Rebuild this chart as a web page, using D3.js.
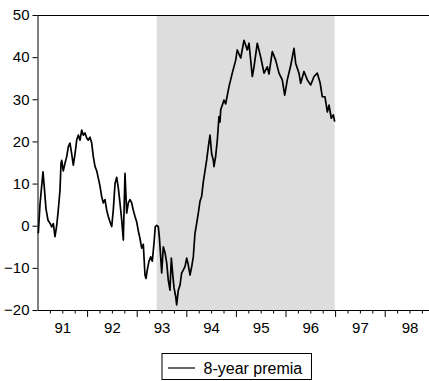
<!DOCTYPE html>
<html>
<head>
<meta charset="utf-8">
<script src="https://cdn.jsdelivr.net/npm/d3@7"></script>
<style>
  body { margin: 0; background: #fff; }
  svg { display: block; font-family: "Liberation Sans", Arial, sans-serif; }
  .axis text { font-size: 15px; fill: #000; }
  .axis line, .axis path { stroke: #000; }
</style>
</head>
<body>
<svg width="429" height="381"></svg>
<script>
// weekly-ish observations, decimal years
var dates = [
  1991.016, 1991.050, 1991.081, 1991.111, 1991.141, 1991.171, 1991.212, 1991.252, 1991.286, 1991.319,
  1991.353, 1991.387, 1991.419, 1991.454, 1991.474, 1991.488, 1991.520, 1991.554, 1991.589, 1991.621,
  1991.655, 1991.690, 1991.722, 1991.756, 1991.790, 1991.823, 1991.857, 1991.891, 1991.923, 1991.958,
  1991.992, 1992.024, 1992.058, 1992.093, 1992.125, 1992.159, 1992.194, 1992.226, 1992.260, 1992.294,
  1992.327, 1992.361, 1992.395, 1992.427, 1992.462, 1992.496, 1992.528, 1992.563, 1992.597, 1992.629,
  1992.663, 1992.698, 1992.730, 1992.764, 1992.798, 1992.831, 1992.865, 1992.899, 1992.931, 1992.966,
  1993.000, 1993.032, 1993.067, 1993.101, 1993.133, 1993.167, 1993.188, 1993.214, 1993.248, 1993.282,
  1993.315, 1993.349, 1993.375, 1993.403, 1993.435, 1993.456, 1993.484, 1993.504, 1993.536, 1993.571,
  1993.605, 1993.637, 1993.671, 1993.698, 1993.726, 1993.752, 1993.786, 1993.806, 1993.839, 1993.873,
  1993.907, 1993.940, 1993.974, 1994.008, 1994.040, 1994.075, 1994.109, 1994.141, 1994.175, 1994.210,
  1994.242, 1994.276, 1994.310, 1994.343, 1994.377, 1994.411, 1994.444, 1994.478, 1994.512, 1994.544,
  1994.558, 1994.591, 1994.625, 1994.659, 1994.679, 1994.694, 1994.760, 1994.794, 1994.821, 1994.861,
  1994.927, 1994.996, 1995.028, 1995.097, 1995.163, 1995.230, 1995.264, 1995.331, 1995.365, 1995.431,
  1995.500, 1995.567, 1995.633, 1995.667, 1995.734, 1995.802, 1995.869, 1995.935, 1995.984, 1996.036,
  1996.105, 1996.171, 1996.206, 1996.272, 1996.306, 1996.373, 1996.440, 1996.508, 1996.575, 1996.641,
  1996.696, 1996.742, 1996.796, 1996.843, 1996.877, 1996.923, 1996.964, 1996.992
];

var premia = [
  -1.8, 5.0, 9.0, 12.8, 8.5, 4.0, 1.3, 0.6, -0.3, 0.5,
  -2.6, 0.0, 3.7, 8.5, 14.8, 15.5, 13.0, 14.8, 16.4, 18.7,
  19.6, 17.0, 14.4, 17.0, 20.3, 21.5, 20.3, 22.7, 21.5, 22.0,
  20.8, 20.3, 21.0, 19.6, 16.4, 14.1, 13.0, 11.3, 9.4, 6.9,
  5.4, 6.2, 3.7, 2.2, 0.9, -0.2, 3.7, 10.0, 11.5, 9.0,
  5.4, 1.3, -3.4, 12.4, 3.0, 5.4, 6.2, 5.4, 3.7, 2.2,
  0.9, -1.2, -3.1, -5.3, -4.4, -11.7, -12.5, -10.5, -8.4, -7.4,
  -8.4, -4.1, -0.2, 0.1, -0.2, -2.6, -7.4, -11.2, -5.0, -6.4,
  -8.8, -12.9, -15.3, -7.7, -11.5, -14.7, -16.8, -18.8, -15.3, -14.1,
  -11.2, -10.5, -9.7, -7.7, -9.3, -11.7, -9.7, -7.4, -1.8, 0.6,
  3.0, 5.8, 7.0, 10.4, 13.0, 15.6, 18.7, 21.5, 17.0, 15.6,
  14.0, 16.4, 20.3, 25.9, 24.6, 27.5, 29.8, 28.9, 30.6, 33.0,
  36.2, 39.3, 41.7, 39.8, 44.0, 41.7, 43.3, 35.4, 37.7, 43.3,
  40.0, 36.2, 37.7, 36.0, 41.3, 39.3, 36.2, 34.6, 31.0, 34.6,
  38.0, 42.1, 38.5, 36.2, 33.8, 36.6, 34.6, 33.4, 35.4, 36.2,
  34.0, 30.6, 30.6, 27.0, 28.6, 25.5, 26.3, 24.7
];

var shade = [1993.403, 1996.992];
var years = [1991, 1992, 1993, 1994, 1995, 1996, 1997, 1998];
var yearLabels = ["91", "92", "93", "94", "95", "96", "97", "98"];
var yTicks = [-20, -10, 0, 10, 20, 30, 40, 50];
var seriesName = "8-year premia";

var svg = d3.select("svg"),
    margin = {top: 15, left: 37.5},
    width = 8 * 49.6,
    height = 295;

var x = d3.scaleLinear().domain([1991, 1999]).range([0, width]),
    y = d3.scaleLinear().domain([-20, 50]).range([height, 0]);

var g = svg.append("g")
    .attr("transform", "translate(" + margin.left + "," + margin.top + ")");

// shaded band
g.append("rect")
    .attr("x", x(shade[0]))
    .attr("y", 0)
    .attr("width", x(shade[1]) - x(shade[0]))
    .attr("height", height)
    .attr("fill", "#dddddd");

var data = dates.map(function(d, i) { return {date: d, value: premia[i]}; });

var line = d3.line()
    .x(function(d) { return x(d.date); })
    .y(function(d) { return y(d.value); });

g.append("path")
    .datum(data)
    .attr("fill", "none")
    .attr("stroke", "#000")
    .attr("stroke-width", 1.7)
    .attr("stroke-linejoin", "round")
    .attr("d", line);

// top frame line
g.append("line")
    .attr("x1", 0).attr("x2", width)
    .attr("y1", 0.5).attr("y2", 0.5)
    .attr("stroke", "#000");

// quarter ticks
var quarters = [];
years.forEach(function(yr) {
  [0.25, 0.5, 0.75].forEach(function(q) { quarters.push(yr + q); });
});

g.append("g")
    .attr("class", "axis")
    .attr("transform", "translate(0," + height + ")")
    .call(d3.axisBottom(x).tickValues(quarters).tickSize(3.5).tickSizeOuter(0).tickFormat(""));

g.append("g")
    .attr("class", "axis")
    .attr("transform", "translate(0," + height + ")")
    .call(d3.axisBottom(x).tickValues(years.slice(1).concat([1999])).tickSize(7).tickSizeOuter(0).tickFormat(""))
    .select(".domain").remove();

g.append("g")
    .attr("class", "axis")
    .attr("transform", "translate(0," + height + ")")
    .call(d3.axisBottom(x)
      .tickValues(years.map(function(d) { return d + 0.5; }))
      .tickSize(0).tickPadding(12)
      .tickFormat(function(d, i) { return yearLabels[i]; }))
    .call(function(a) { a.select(".domain").remove(); });

g.append("g")
    .attr("class", "axis")
    .call(d3.axisLeft(y).tickValues(yTicks).tickSize(5).tickPadding(3).tickSizeOuter(0));

// legend
var legend = svg.append("g").attr("transform", "translate(162,353.5)");

legend.append("rect")
    .attr("width", 149.5)
    .attr("height", 26)
    .attr("fill", "#fff")
    .attr("stroke", "#000");

legend.append("line")
    .attr("x1", 6).attr("x2", 33)
    .attr("y1", 14.5).attr("y2", 14.5)
    .attr("stroke", "#000")
    .attr("stroke-width", 1.2);

legend.append("text")
    .attr("x", 41.5)
    .attr("y", 20)
    .attr("font-size", "16px")
    .text(seriesName);
</script>
</body>
</html>
